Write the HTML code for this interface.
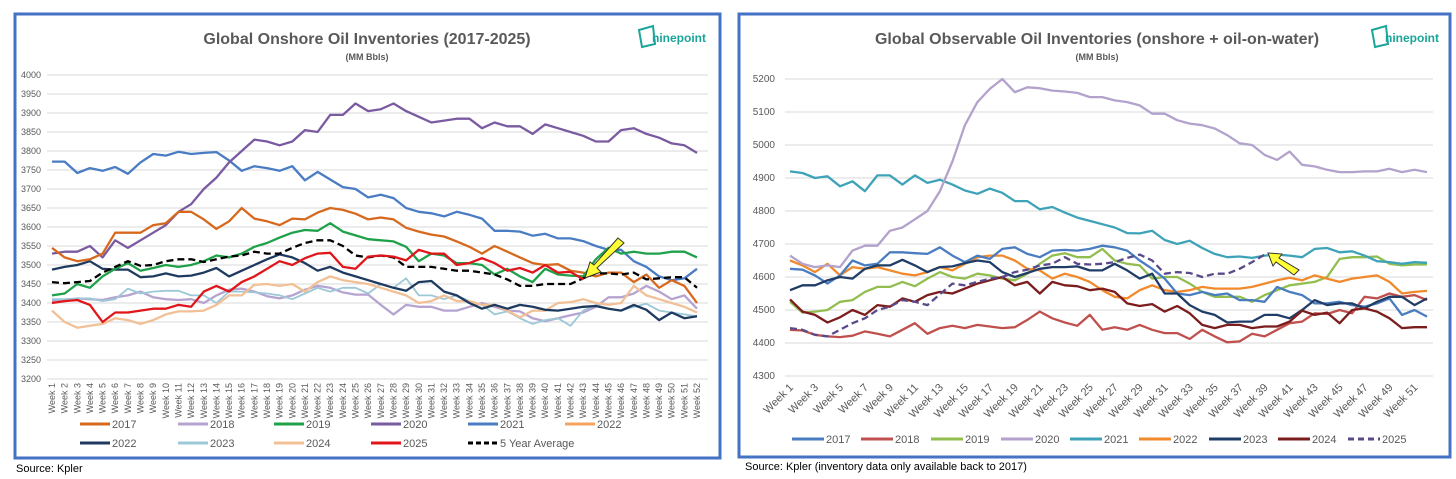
<!DOCTYPE html>
<html><head><meta charset="utf-8"><style>
body{margin:0;background:#fff;width:1456px;height:479px;overflow:hidden;font-family:"Liberation Sans",sans-serif}
svg{position:absolute;left:0;top:0}
</style></head><body>
<svg width="1456" height="479" xmlns="http://www.w3.org/2000/svg">
<rect x="15" y="14" width="705" height="444" fill="#fff" stroke="#4472c4" stroke-width="3"/>
<rect x="739" y="14" width="711" height="443" fill="#fff" stroke="#4472c4" stroke-width="3"/>
<text x="367" y="44" text-anchor="middle" font-size="16" font-weight="bold" fill="#595959">Global Onshore Oil Inventories (2017-2025)</text>
<text x="367" y="60" text-anchor="middle" font-size="9" font-weight="bold" fill="#595959">(MM Bbls)</text>
<text x="1097" y="44" text-anchor="middle" font-size="16" font-weight="bold" fill="#595959">Global Observable Oil Inventories (onshore + oil-on-water)</text>
<text x="1097" y="60" text-anchor="middle" font-size="9" font-weight="bold" fill="#595959">(MM Bbls)</text>
<g><path d="M639 30 L653 26 L655 44 L642 47 Z" fill="none" stroke="#1aa59a" stroke-width="2"/><text x="652" y="42" font-size="12" font-weight="bold" fill="#1aa59a">ninepoint</text></g>
<g><path d="M1372 30 L1386 26 L1388 44 L1375 47 Z" fill="none" stroke="#1aa59a" stroke-width="2"/><text x="1385" y="42" font-size="12" font-weight="bold" fill="#1aa59a">ninepoint</text></g>
<text x="16" y="472" font-size="11" fill="#000">Source: Kpler</text>
<text x="745" y="470" font-size="11" fill="#000">Source: Kpler (inventory data only available back to 2017)</text>
<g id="L"></g><g id="R"></g>
</svg>
<script>
const NS='http://www.w3.org/2000/svg';
const leftYTicks=[3200,3250,3300,3350,3400,3450,3500,3550,3600,3650,3700,3750,3800,3850,3900,3950,4000];
const rightYTicks=[4300,4400,4500,4600,4700,4800,4900,5000,5100,5200];
const L2017=[3545,3520,3510,3515,3530,3585,3585,3585,3605,3610,3640,3640,3620,3595,3615,3650,3622,3615,3605,3622,3620,3638,3650,3645,3635,3620,3625,3620,3598,3588,3580,3575,3562,3548,3530,3550,3535,3520,3505,3500,3502,3485,3480,3470,3480,3480,3455,3475,3440,3460,3445,3400];
const L2018=[3405,3405,3412,3410,3408,3415,3420,3430,3415,3410,3408,3410,3400,3420,3435,3438,3430,3418,3412,3420,3435,3445,3440,3428,3422,3422,3395,3370,3395,3390,3390,3380,3380,3390,3400,3390,3380,3378,3360,3352,3360,3368,3375,3390,3415,3415,3425,3445,3430,3410,3420,3385];
const L2019=[3420,3425,3450,3440,3470,3490,3505,3485,3492,3500,3495,3500,3510,3525,3520,3530,3548,3558,3572,3585,3592,3590,3610,3588,3578,3568,3565,3562,3548,3510,3530,3525,3505,3505,3500,3475,3490,3470,3455,3490,3475,3472,3470,3515,3545,3530,3535,3530,3530,3535,3535,3520];
const L2020=[3530,3535,3535,3550,3520,3565,3545,3565,3585,3605,3640,3660,3700,3730,3770,3800,3830,3825,3815,3825,3855,3850,3895,3895,3925,3905,3910,3925,3905,3890,3875,3880,3885,3885,3860,3875,3865,3865,3845,3870,3860,3850,3840,3825,3825,3855,3860,3845,3835,3820,3815,3795];
const L2021=[3772,3772,3742,3755,3748,3758,3740,3770,3792,3788,3798,3792,3795,3797,3775,3748,3760,3755,3748,3760,3723,3745,3725,3705,3700,3678,3685,3676,3650,3640,3636,3628,3640,3632,3622,3590,3590,3588,3577,3582,3570,3570,3563,3550,3540,3540,3510,3495,3470,3460,3465,3490];
const L2022=[3488,3495,3500,3510,3490,3488,3488,3468,3470,3478,3470,3472,3480,3492,3470,3485,3500,3515,3528,3520,3505,3485,3495,3480,3470,3460,3450,3440,3432,3455,3458,3430,3420,3400,3385,3395,3385,3395,3390,3382,3380,3385,3390,3392,3385,3380,3395,3382,3355,3375,3360,3365];
const L2023=[3410,3410,3412,3412,3405,3410,3438,3425,3430,3432,3432,3420,3420,3400,3430,3430,3428,3425,3420,3410,3425,3440,3430,3440,3440,3425,3450,3440,3465,3420,3420,3410,3420,3405,3395,3370,3378,3360,3345,3355,3360,3340,3380,3395,3385,3380,3390,3398,3380,3375,3370,3365];
const L2024=[3380,3350,3335,3340,3345,3360,3355,3345,3355,3370,3378,3378,3380,3395,3420,3420,3448,3450,3445,3450,3430,3455,3470,3460,3455,3450,3440,3430,3420,3400,3405,3420,3405,3405,3395,3395,3380,3362,3380,3380,3400,3402,3410,3400,3395,3400,3445,3420,3410,3400,3390,3375];
const L2025=[3400,3405,3408,3395,3350,3375,3375,3380,3385,3385,3395,3390,3430,3445,3430,3455,3470,3490,3510,3500,3518,3530,3532,3495,3490,3522,3525,3522,3512,3540,3530,3530,3500,3505,3518,3505,3485,3492,3480,3500,3480,3482,3462];
const LAvg=[3455,3452,3455,3458,3480,3495,3510,3498,3500,3510,3515,3515,3508,3515,3522,3525,3535,3530,3530,3545,3558,3565,3565,3550,3525,3520,3525,3520,3495,3495,3495,3490,3485,3485,3480,3475,3462,3445,3445,3450,3450,3450,3465,3478,3478,3475,3480,3462,3465,3468,3468,3440];
const R2017=[4625,4622,4605,4580,4605,4650,4635,4640,4675,4675,4672,4670,4690,4665,4645,4665,4655,4685,4690,4670,4660,4680,4682,4680,4685,4695,4690,4680,4650,4625,4595,4550,4545,4555,4545,4550,4530,4530,4525,4570,4555,4545,4520,4520,4525,4515,4510,4520,4535,4485,4500,4480];
const R2018=[4440,4438,4425,4420,4418,4422,4435,4428,4420,4440,4460,4428,4445,4452,4445,4455,4450,4445,4448,4470,4495,4475,4462,4452,4485,4440,4448,4440,4455,4440,4430,4430,4412,4440,4420,4402,4405,4428,4420,4440,4460,4465,4490,4488,4500,4490,4540,4535,4550,4540,4545,4530];
const R2019=[4525,4492,4495,4500,4525,4530,4555,4570,4570,4585,4572,4595,4615,4600,4595,4610,4605,4595,4590,4610,4640,4665,4672,4660,4660,4685,4650,4640,4635,4595,4600,4600,4580,4555,4540,4540,4540,4525,4545,4560,4575,4580,4585,4600,4655,4660,4660,4662,4640,4635,4638,4638];
const R2020=[4665,4640,4630,4635,4630,4680,4695,4695,4740,4750,4775,4800,4860,4950,5060,5130,5170,5200,5160,5175,5172,5165,5162,5158,5145,5145,5135,5130,5120,5095,5095,5075,5065,5060,5050,5030,5005,5000,4970,4955,4980,4940,4935,4925,4918,4918,4920,4920,4928,4918,4925,4918];
const R2021=[4920,4915,4900,4905,4875,4890,4860,4908,4908,4880,4908,4885,4895,4880,4862,4852,4868,4855,4830,4830,4805,4812,4795,4780,4770,4760,4750,4733,4732,4740,4712,4700,4710,4688,4670,4660,4662,4658,4665,4668,4665,4660,4685,4688,4675,4678,4665,4648,4645,4640,4645,4643];
const R2022=[4650,4635,4615,4640,4605,4630,4625,4630,4620,4610,4605,4615,4630,4620,4640,4660,4665,4665,4650,4625,4620,4595,4610,4600,4585,4560,4540,4535,4560,4575,4560,4555,4560,4570,4565,4565,4565,4570,4580,4590,4598,4590,4605,4595,4585,4595,4600,4605,4585,4550,4555,4558];
const R2023=[4560,4575,4575,4590,4600,4595,4625,4635,4635,4652,4635,4615,4630,4632,4642,4650,4645,4615,4600,4612,4625,4630,4630,4632,4620,4620,4640,4620,4595,4610,4550,4550,4515,4495,4485,4462,4465,4465,4485,4485,4475,4500,4530,4515,4520,4520,4505,4525,4540,4540,4515,4535];
const R2024=[4532,4495,4485,4462,4478,4500,4485,4515,4510,4535,4525,4545,4555,4550,4565,4580,4590,4600,4575,4585,4550,4585,4575,4572,4560,4565,4555,4520,4512,4518,4495,4512,4490,4455,4445,4455,4455,4445,4450,4450,4465,4498,4485,4492,4460,4500,4505,4495,4475,4445,4448,4448];
const R2025=[4445,4440,4425,4420,4440,4460,4475,4500,4510,4530,4525,4515,4548,4580,4575,4585,4595,4600,4615,4622,4635,4640,4660,4640,4638,4640,4645,4658,4668,4650,4610,4615,4612,4600,4610,4610,4625,4645,4668];

function mk(tag,attrs,parent){const e=document.createElementNS(NS,tag);for(const k in attrs)e.setAttribute(k,attrs[k]);parent.appendChild(e);return e;}
function chart(g,cfg){
  const y=v=>cfg.y0+(v-cfg.vmin)/(cfg.vmax-cfg.vmin)*(cfg.y1-cfg.y0);
  const x=i=>cfg.x0+i*(cfg.x1-cfg.x0)/51;
  cfg.ticks.forEach(t=>{
    const ln=mk('line',{x1:cfg.gx0,x2:cfg.gx1,y1:y(t),y2:y(t),stroke:'#d9d9d9','stroke-width':1},g);
    
    
    const tx=mk('text',{x:cfg.lx,y:y(t)+3,'font-size':cfg.tfs,fill:'#595959','text-anchor':cfg.la},g);
    tx.textContent=t;
    
    
  });
  for(let i=0;i<52;i+=cfg.step){
    const px=x(i);
    let tx;
    if(cfg.rot===-90){tx=mk('text',{x:0,y:0,'font-size':9,fill:'#595959','text-anchor':'end',transform:`translate(${px+3},${cfg.xly}) rotate(-90)`},g);}
    else{tx=mk('text',{x:0,y:0,'font-size':11,fill:'#595959','text-anchor':'end',transform:`translate(${px+4},${cfg.xly}) rotate(-45)`},g);}
    tx.textContent='Week '+(i+1);
    
    
  }
  cfg.series.forEach(s=>{
    const d=s.data.map((v,i)=>(i?'L':'M')+x(i).toFixed(1)+' '+y(v).toFixed(1)).join(' ');
    const p=mk('path',{d:d,fill:'none',stroke:s.c,'stroke-width':s.w||2.3,'stroke-linejoin':'round'},g);
    if(s.dash)p.setAttribute('stroke-dasharray',s.dash);
    
    
  });
  cfg.legend.forEach(l=>{
    const ln=mk('line',{x1:l.x,x2:l.x+cfg.ll,y1:l.y,y2:l.y,stroke:l.c,'stroke-width':3},g);
    if(l.dash)ln.setAttribute('stroke-dasharray',l.dash);
    
    
    const tx=mk('text',{x:l.x+cfg.ll+2,y:l.y+4,'font-size':11,fill:'#595959'},g);
    tx.textContent=l.n;
    
    
  });
}
const Lc={'2017':'#d7691e','2018':'#b6a4d0','2019':'#1fa14a','2020':'#7a5aa0','2021':'#4a7cc4','2022o':'#f4a460','2022':'#1f3a5f','2023':'#9cc8d8','2024':'#f2c096','2025':'#e0161b'};
chart(document.getElementById('L'),{vmin:3200,vmax:4000,y0:379,y1:75,x0:52,x1:697,gx0:47,gx1:708,lx:21,la:'start',tfs:9,ticks:leftYTicks,step:1,rot:-90,xly:383,ll:30,
 series:[{n:'2018',c:Lc['2018'],data:L2018},{n:'2023',c:Lc['2023'],data:L2023,w:1.8},{n:'2024',c:Lc['2024'],data:L2024},{n:'2022',c:Lc['2022'],data:L2022},{n:'2021',c:Lc['2021'],data:L2021},{n:'2020',c:Lc['2020'],data:L2020},{n:'2017',c:Lc['2017'],data:L2017},{n:'2019',c:Lc['2019'],data:L2019},{n:'5 Year Average',c:'#000',data:LAvg,dash:'7 4'},{n:'2025',c:Lc['2025'],data:L2025}],
 legend:[{n:'2017',c:Lc['2017'],x:80,y:424},{n:'2018',c:Lc['2018'],x:178,y:424},{n:'2019',c:Lc['2019'],x:274,y:424},{n:'2020',c:Lc['2020'],x:371,y:424},{n:'2021',c:Lc['2021'],x:468,y:424},{n:'2022',c:Lc['2022o'],x:565,y:424},
 {n:'2022',c:Lc['2022'],x:80,y:443},{n:'2023',c:Lc['2023'],x:178,y:443},{n:'2024',c:Lc['2024'],x:274,y:443},{n:'2025',c:Lc['2025'],x:371,y:443},{n:'5 Year Average',c:'#000',x:468,y:443,dash:'5 3'}]});
const Rc={'2017':'#4a7cc0','2018':'#c0504d','2019':'#92bd4f','2020':'#b3a2cc','2021':'#3ea3b8','2022':'#f08a2c','2023':'#1f3d66','2024':'#7b1d1d','2025':'#5a4a8a'};
const Rdata={'2017':R2017,'2018':R2018,'2019':R2019,'2020':R2020,'2021':R2021,'2022':R2022,'2023':R2023,'2024':R2024};
chart(document.getElementById('R'),{vmin:4300,vmax:5200,y0:376,y1:79,x0:790,x1:1427,gx0:785,gx1:1433,lx:775,la:'end',tfs:10,ticks:rightYTicks,step:2,rot:-45,xly:388,ll:32,
 series:['2018','2019','2022','2017','2023','2024','2021','2020'].map(k=>({n:k,c:Rc[k],data:Rdata[k]})).concat([{n:'2025',c:Rc['2025'],data:R2025,dash:'7 4'}]),
 legend:['2017','2018','2019','2020','2021','2022','2023','2024','2025'].map((k,i)=>({n:k,c:Rc[k],x:[792,861,931,1001,1070,1139,1209,1278,1348][i],y:439,dash:k==='2025'?'6 4':null}))});
const A=document.querySelector('svg');
const a1=mk('path',{d:'M618 238 L624 243 L597 268 L601 272 L585 278 L590 262 L594 265 Z',fill:'#ffff33',stroke:'#333','stroke-width':1},A);


const a2=mk('path',{d:'M1299 270 L1294 275 L1276 262 L1273 266 L1268 253 L1282 254 L1279 258 Z',fill:'#ffff33',stroke:'#333','stroke-width':1},A);


</script>
</body></html>
